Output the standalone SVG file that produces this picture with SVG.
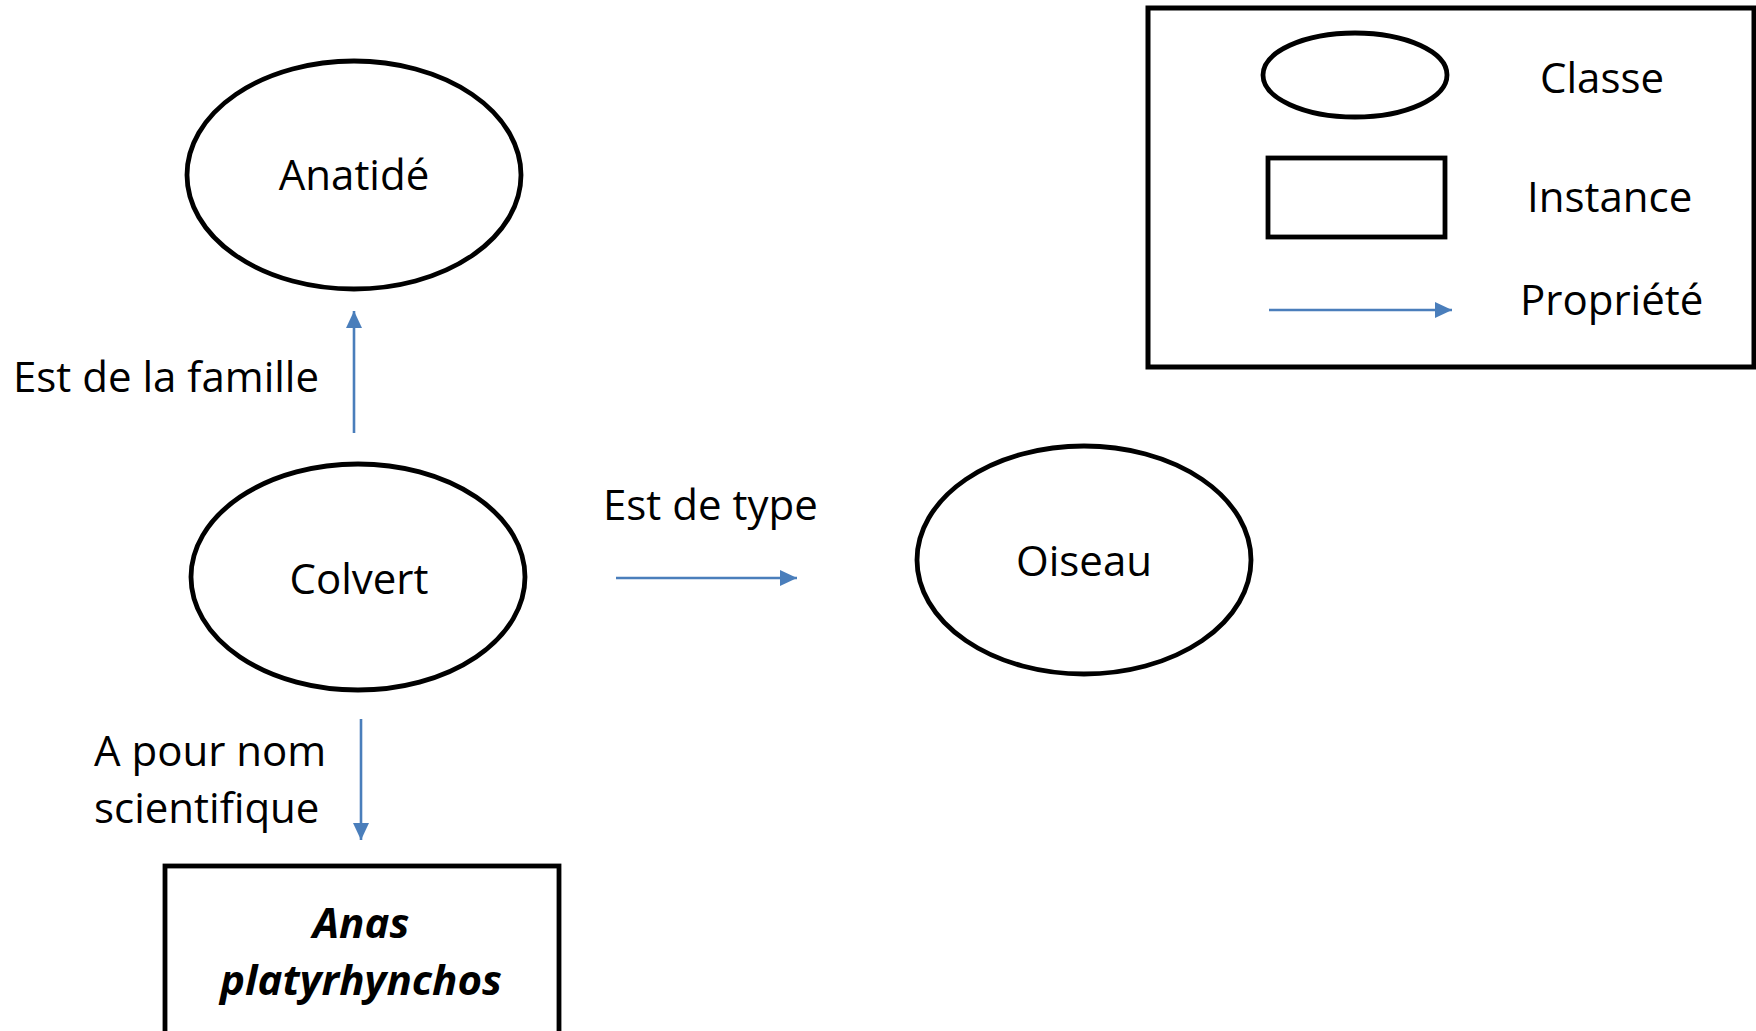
<svg xmlns="http://www.w3.org/2000/svg" width="1756" height="1031" viewBox="0 0 1756 1031">
<style>
.shape{fill:#ffffff;stroke:#000000;stroke-width:4.8}
.lbl{font-family:"Open Sans","Noto Sans","Liberation Sans",sans-serif;font-size:42px;fill:#000000}
.mid{text-anchor:middle}
.bi{font-weight:bold;font-style:italic}
.edge{stroke:#4A7EBB;stroke-width:2.6;fill:none}
</style>
<defs>
<marker id="arr" markerUnits="userSpaceOnUse" markerWidth="20" markerHeight="18" refX="17" refY="8" orient="auto">
<path d="M0,0 L17,8 L0,16 Z" fill="#4A7EBB"/>
</marker>
</defs>
<rect width="1756" height="1031" fill="#ffffff"/>

<g id="node-anatide">
<ellipse class="shape" cx="354" cy="175" rx="167" ry="114"/>
<text class="lbl mid" x="354" y="190">Anatidé</text>
</g>

<g id="node-colvert">
<ellipse class="shape" cx="358" cy="577" rx="167" ry="113"/>
<text class="lbl mid" x="359" y="594">Colvert</text>
</g>

<g id="node-oiseau">
<ellipse class="shape" cx="1084" cy="560" rx="167" ry="114"/>
<text class="lbl mid" x="1084" y="576">Oiseau</text>
</g>

<g id="node-anas">
<rect class="shape" x="165" y="866" width="394" height="190"/>
<text class="lbl mid bi" x="361" y="938">Anas</text>
<text class="lbl mid bi" x="361" y="995">platyrhynchos</text>
</g>

<g id="connectors">
<line class="edge" x1="354" y1="433" x2="354" y2="311" marker-end="url(#arr)"/>
<text class="lbl" x="13" y="392">Est de la famille</text>
<line class="edge" x1="616" y1="578" x2="797" y2="578" marker-end="url(#arr)"/>
<text class="lbl" x="603" y="520">Est de type</text>
<line class="edge" x1="361" y1="719" x2="361" y2="840" marker-end="url(#arr)"/>
<text class="lbl" x="94" y="766">A pour nom</text>
<text class="lbl" x="94" y="823">scientifique</text>
</g>

<g id="legend">
<rect x="1148" y="8" width="606" height="359" fill="#ffffff" stroke="#000000" stroke-width="5"/>
<ellipse class="shape" cx="1355" cy="75" rx="92" ry="42"/>
<text class="lbl" x="1540" y="93">Classe</text>
<rect class="shape" x="1268" y="158" width="177" height="79"/>
<text class="lbl" x="1527" y="212">Instance</text>
<line class="edge" x1="1269" y1="310" x2="1452" y2="310" marker-end="url(#arr)"/>
<text class="lbl" x="1520" y="315">Propriété</text>
</g>
</svg>
